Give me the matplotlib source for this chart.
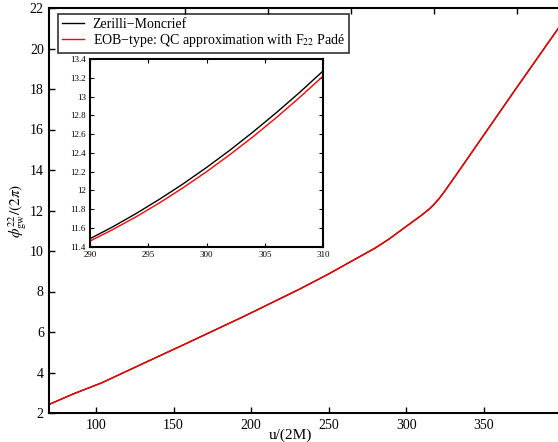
"""
Phase of the 22 gravitational-wave multipole: Zerilli-Moncrief vs EOB-type.
"""
import matplotlib
matplotlib.use("Agg")
import matplotlib.pyplot as plt

plt.rcParams['font.family'] = ['Liberation Serif', 'DejaVu Serif']
plt.rcParams['mathtext.fontset'] = 'stix'

# main panel (u/(2M), phase/(2 pi))
u_main = [70, 85, 104, 130, 157, 195, 231, 250, 268, 280, 289, 300, 310,
          315, 318, 321, 324, 335, 350, 371, 398]
zm_main = [2.43, 2.93, 3.50, 4.43, 5.39, 6.76, 8.11, 8.87, 9.64, 10.15,
           10.60, 11.22, 11.78, 12.09, 12.32, 12.58, 12.88, 14.08, 15.74,
           18.06, 21.01]
eob_main = zm_main

# inset, zoom on 290-310
u_ins = [290, 292, 294, 296, 298, 300, 302, 304, 306, 308, 310]
zm_ins = [11.485, 11.615, 11.757, 11.909, 12.071, 12.245, 12.429, 12.625,
          12.831, 13.047, 13.275]
eob_ins = [11.46, 11.586, 11.722, 11.870, 12.030, 12.200, 12.382, 12.574,
           12.778, 12.994, 13.22]

y_ticks = [2, 4, 6, 8, 10, 12, 14, 16, 18, 20, 22]
x_ticks = [100, 150, 200, 250, 300, 350]
top_ticks = [157.3, 210.8, 264.3, 317.8, 371.3]
ins_x_ticks = [290, 295, 300, 305, 310]
ins_y_ticks = [11.4, 11.6, 11.8, 12.0, 12.2, 12.4, 12.6, 12.8, 13.0, 13.2, 13.4]
ins_y_labels = ["11.4", "11.6", "11.8", "12", "12.2", "12.4", "12.6",
                "12.8", "13", "13.2", "13.4"]

W, H = 558, 442
fig = plt.figure(figsize=(W / 100, H / 100), dpi=100)

ax = fig.add_axes([49.4 / W, 29 / H, 512.2 / W, 405 / H])
ax.plot(u_main, zm_main, color='black', lw=1.0, label="Zerilli\u2212Moncrief")
ax.plot(u_main, eob_main, color='red', lw=1.0,
        label="EOB\u2212type: QC approximation with F$_{22}$ Pad\u00e9")
ax.set_xlim(70, 400)
ax.set_ylim(2, 22)
ax.set_xticks(x_ticks)
ax.set_yticks(y_ticks)
ax.tick_params(direction='in', length=4, width=1, labelsize=10, pad=4)
for s in ax.spines.values():
    s.set_linewidth(1.5)

top = ax.twiny()
top.set_xlim(ax.get_xlim())
top.set_xticks(top_ticks)
top.set_xticklabels([])
top.tick_params(direction='in', length=4, width=1)
for s in top.spines.values():
    s.set_visible(False)

ax.set_xlabel("u/(2M)", fontsize=11)
ax.xaxis.set_label_coords((290 - 49.4) / 512.2, -(429 - 413) / 405)
ax.set_ylabel(r"$\phi^{22}_{\rm gw}/(2\pi)$", fontsize=11)
ax.yaxis.set_label_coords(-(49.4 - 18) / 512.2, 0.5)
ax.yaxis.label.set_va('center')

leg = ax.legend(loc='upper left', bbox_to_anchor=(58 / W, 1 - 14 / H),
                bbox_transform=fig.transFigure, fontsize=10, frameon=True,
                fancybox=False, borderaxespad=0, handlelength=1.6,
                handletextpad=0.6, labelspacing=0.05, borderpad=0.3)
leg.get_frame().set_edgecolor('black')
leg.get_frame().set_linewidth(1.2)

ins = fig.add_axes([90 / W, (H - 246.7) / H, 233.3 / W, 187.7 / H])
ins.plot(u_ins, zm_ins, color='black', lw=1.0)
ins.plot(u_ins, eob_ins, color='red', lw=1.0)
ins.set_xlim(290, 310)
ins.set_ylim(11.4, 13.4)
ins.set_xticks(ins_x_ticks)
ins.set_yticks(ins_y_ticks)
ins.set_yticklabels(ins_y_labels)
ins.tick_params(direction='in', length=3, width=0.8, labelsize=6.5, pad=3,
                top=True, right=True)
for s in ins.spines.values():
    s.set_linewidth(1.5)

fig.savefig("out.png", dpi=100)
